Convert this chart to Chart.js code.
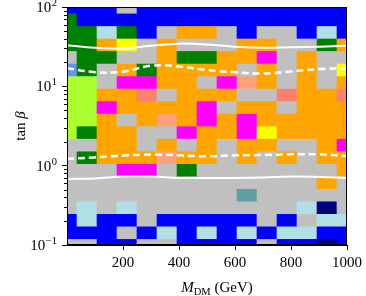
<!DOCTYPE html>
<html>
<head>
<meta charset="utf-8">
<script src="https://cdn.jsdelivr.net/npm/chart.js@4.4.1/dist/chart.umd.min.js"></script>
<style>
  html, body { margin: 0; padding: 0; background: #fff; }
  #wrap { width: 366px; height: 296px; }
</style>
</head>
<body>
<div id="wrap"><canvas id="scanChart"></canvas></div>
<script>
// scan grid: DM mass columns (GeV) and tan beta rows (top -> bottom)
const massPoints = [0, 71.4, 142.9, 214.3, 285.7, 357.1, 428.6, 500, 571.4, 642.9, 714.3, 785.7, 857.1, 928.6, 1000];
const tanbPoints = [100, 69.5, 48.3, 33.6, 23.4, 16.2, 11.3, 7.85, 5.46, 3.79, 2.64, 1.83, 1.27, 0.886, 0.616, 0.428, 0.298, 0.207, 0.144, 0.1];

// one letter per cell, rows from tan beta = 100 down to 0.1
const cellRows = [
  'BBBXBBBBBBBBBBB',
  'GBBBBBBBBBBBBBB',
  'GGPGBXOOXBXXBPB',
  'GGOYXOXXXOOXXGO',
  'XGGXXOGGOOMXOXX',
  'CGXOGOOOOXOXOXY',
  'LLXMMOOXMTOXOXO',
  'LLOOSXOOOXXSOOS',
  'LLMOOOOMXOOXOOO',
  'LLOXOTOMOMOOOOO',
  'LGOOXXMOOMYOOOO',
  'XXOOXOXOXOOXXOM',
  'XGOOOTOOXOXOXOO',
  'XXXMMXGXXXXXXXO',
  'XXXXXXXXXXXXXOX',
  'XXXXXXXXXDXXXXX',
  'XPXPXXXXXXXXPNX',
  'BPBBXBBBBBXBXPP',
  'BBBXBPBPBPBPPBB',
  'XXBBXXBBBBXBBNB'
];

// white contours
const curveMass = [0, 100, 200, 300, 400, 500, 600, 700, 800, 900, 1000];
const upperSolid = [33, 30.7, 30, 32.5, 34.5, 33.7, 31.6, 30.7, 31.1, 31.6, 32.5];
const upperDashed = [16.9, 15.1, 15.3, 18.2, 17.8, 16.0, 15.0, 14.5, 15.4, 16.5, 16.9];
const lowerDashed = [1.22, 1.27, 1.34, 1.38, 1.35, 1.31, 1.35, 1.36, 1.39, 1.39, 1.32];
const lowerSolid = [0.68, 0.69, 0.73, 0.73, 0.70, 0.70, 0.70, 0.71, 0.73, 0.72, 0.70];

const xTickValues = [200, 400, 600, 800, 1000];
const yTickValues = [0.1, 1, 10, 100];

const palette = {
  B: '#0000ff', N: '#000080', P: '#b0e0e6', G: '#008000', L: '#adff2f',
  C: '#6495ed', O: '#ffa500', Y: '#ffff00', M: '#ff00ff', S: '#fa8072',
  T: '#ffa07a', X: '#c0c0c0', D: '#5f9ea0'
};

const serif = "'Liberation Serif', 'DejaVu Serif', serif";

function rowEdges(i) {
  const t = tanbPoints;
  const up = i === 0 ? t[0] * Math.sqrt(t[0] / t[1]) : Math.sqrt(t[i - 1] * t[i]);
  const lo = i === t.length - 1 ? t[i] * Math.sqrt(t[i] / t[i - 1]) : Math.sqrt(t[i] * t[i + 1]);
  return [lo, up];
}

const cellSets = cellRows.map((row, i) => {
  const [lo, up] = rowEdges(i);
  return {
    type: 'bar',
    data: massPoints.map(m => ({ x: m, y: [lo, up] })),
    backgroundColor: row.split('').map(c => palette[c]),
    borderWidth: 0,
    borderSkipped: false,
    grouped: false,
    barPercentage: 1,
    categoryPercentage: 1,
    order: 2
  };
});

function curve(values, dashed) {
  return {
    type: 'line',
    data: curveMass.map((m, i) => ({ x: m, y: values[i] })),
    borderColor: '#ffffff',
    borderWidth: dashed ? 2.5 : 2,
    borderDash: dashed ? [7, 4] : [],
    pointRadius: 0,
    tension: 0.4,
    fill: false,
    order: 1
  };
}

// frame, minor ticks, 10^n labels and axis titles
const axisDecor = {
  id: 'axisDecor',
  afterDraw(chart) {
    const ctx = chart.ctx;
    const a = chart.chartArea;
    const y = chart.scales.y;
    ctx.save();
    ctx.strokeStyle = '#000';
    ctx.lineWidth = 1;
    ctx.strokeRect(a.left + 0.5, a.top + 0.5, a.right - a.left - 1, a.bottom - a.top - 1);

    ctx.beginPath();
    [0.1, 1, 10].forEach(d => {
      for (let k = 2; k <= 9; k++) {
        const py = Math.round(y.getPixelForValue(d * k)) + 0.5;
        ctx.moveTo(a.left - 3, py);
        ctx.lineTo(a.left, py);
      }
    });
    ctx.stroke();

    ctx.fillStyle = '#000';
    ctx.textBaseline = 'alphabetic';
    yTickValues.forEach(v => {
      const py = y.getPixelForValue(v);
      const exp = String(Math.round(Math.log10(v))).replace('-', '\u2212');
      ctx.font = '10.5px ' + serif;
      const ew = ctx.measureText(exp).width;
      ctx.textAlign = 'left';
      const right = a.left - 10;
      ctx.fillText(exp, right - ew, py - 1);
      ctx.font = '15px ' + serif;
      ctx.textAlign = 'right';
      ctx.fillText('10', right - ew - 0.5, py + 5);
    });

    // x title: M_DM (GeV)
    ctx.textAlign = 'left';
    const parts = [
      { t: 'M', f: 'italic 15px ' + serif, dy: 0 },
      { t: 'DM', f: '10.5px ' + serif, dy: 3 },
      { t: ' (GeV)', f: '15px ' + serif, dy: 0 }
    ];
    let total = 0;
    parts.forEach(p => { ctx.font = p.f; p.w = ctx.measureText(p.t).width; total += p.w; });
    let px = 217 - total / 2;
    parts.forEach(p => { ctx.font = p.f; ctx.fillText(p.t, px, 292 + p.dy); px += p.w; });

    // y title: tan beta
    ctx.translate(25, 126);
    ctx.rotate(-Math.PI / 2);
    const yParts = [
      { t: 'tan ', f: '15px ' + serif },
      { t: '\u03b2', f: 'italic 15px ' + serif }
    ];
    total = 0;
    yParts.forEach(p => { ctx.font = p.f; p.w = ctx.measureText(p.t).width; total += p.w; });
    px = -total / 2;
    yParts.forEach(p => { ctx.font = p.f; ctx.fillText(p.t, px, 0); px += p.w; });
    ctx.restore();
  }
};

const ctx = document.getElementById('scanChart').getContext('2d');
const scanChart = new Chart(ctx, {
  type: 'bar',
  data: {
    datasets: cellSets.concat([
      curve(upperSolid, false),
      curve(upperDashed, true),
      curve(lowerDashed, true),
      curve(lowerSolid, false)
    ])
  },
  options: {
    responsive: true,
    maintainAspectRatio: false,
    devicePixelRatio: 1,
    animation: false,
    layout: { padding: { top: 7, right: 19, left: 0, bottom: 0 } },
    plugins: {
      legend: { display: false },
      tooltip: { enabled: false }
    },
    scales: {
      x: {
        type: 'linear',
        min: 0,
        max: 1000,
        offset: false,
        grid: { offset: false, drawOnChartArea: false, drawTicks: true, tickLength: 5, color: '#000' },
        border: { display: true, color: '#000' },
        afterBuildTicks: s => { s.ticks = xTickValues.map(v => ({ value: v })); },
        ticks: {
          color: '#000',
          font: { family: serif, size: 15 },
          maxRotation: 0,
          padding: 4,
          callback: v => String(v)
        },
        afterFit: s => { s.height = 51; }
      },
      y: {
        type: 'logarithmic',
        min: 0.1,
        max: 100,
        grid: { drawOnChartArea: false, drawTicks: true, tickLength: 5, color: '#000' },
        border: { display: true, color: '#000' },
        afterBuildTicks: s => { s.ticks = yTickValues.map(v => ({ value: v, major: true })); },
        ticks: { display: false },
        afterFit: s => { s.width = 67; }
      }
    }
  },
  plugins: [axisDecor]
});
</script>
</body>
</html>
